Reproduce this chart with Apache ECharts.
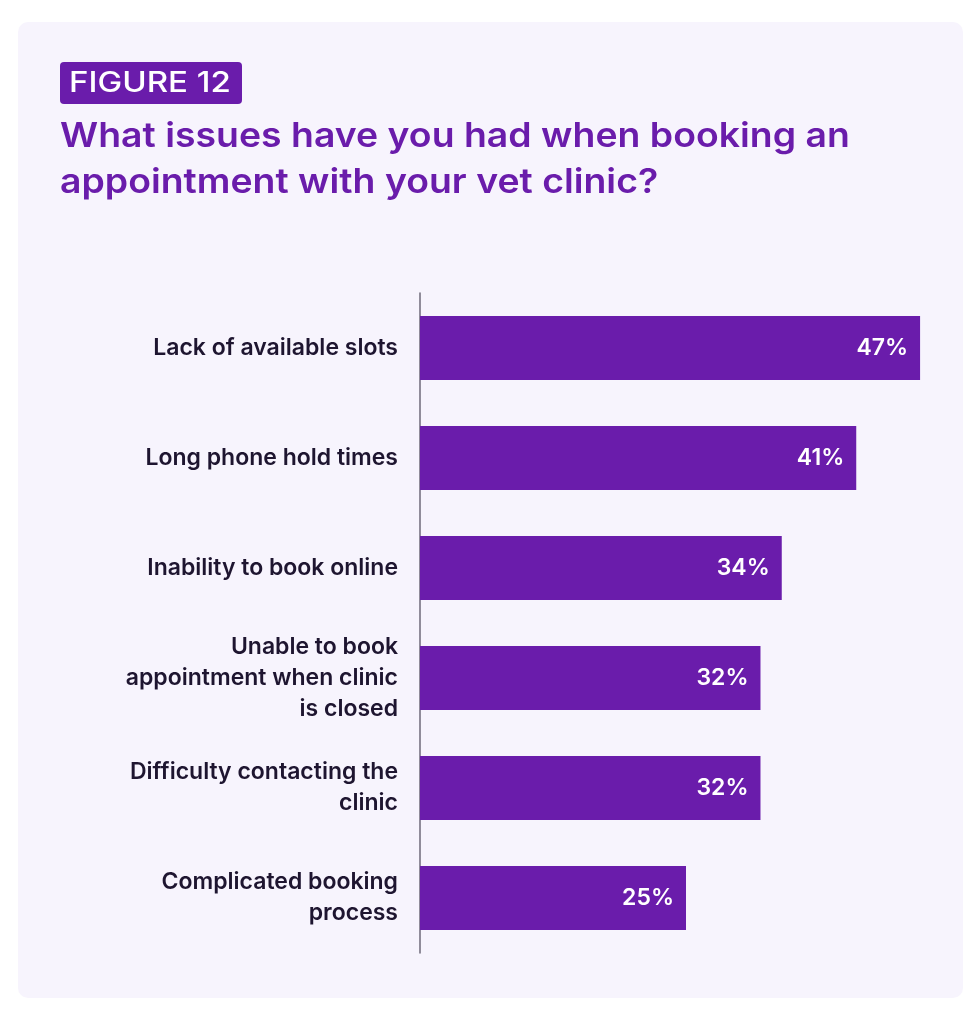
<!DOCTYPE html>
<html>
<head>
<meta charset="utf-8">
<script src="https://cdn.jsdelivr.net/npm/echarts@6/dist/echarts.min.js"></script>
<style>
html,body{margin:0;padding:0;background:#ffffff;}
#chart{width:980px;height:1024px;}
</style>
</head>
<body>
<div id="chart"></div>
<script>
const figureLabel = 'FIGURE 12';
const titleText = 'What issues have you had when booking an\nappointment with your vet clinic?';
const categories = [
  'Lack of available slots',
  'Long phone hold times',
  'Inability to book online',
  'Unable to book\nappointment when clinic\nis closed',
  'Difficulty contacting the\nclinic',
  'Complicated booking\nprocess'
];
const values = [47, 41, 34, 32, 32, 25];

const purple = '#6a1cab';
const font = 'Inter, "Noto Sans", sans-serif';

const chart = echarts.init(document.getElementById('chart'));
chart.setOption({
  backgroundColor: '#ffffff',
  animation: false,
  graphic: [
    { type: 'rect', z: -10, shape: { x: 18, y: 22, width: 945, height: 976, r: 10 }, style: { fill: '#f7f4fd' } },
    { type: 'rect', z: 1, shape: { x: 60, y: 62, width: 182, height: 42, r: 4 }, style: { fill: purple } },
    { type: 'text', z: 2, x: 69, y: 84, scaleX: 1.18, style: { text: figureLabel, fill: '#ffffff', font: '500 28px ' + font, verticalAlign: 'middle' } },
    { type: 'text', z: 2, x: 60, y: 114, scaleX: 1.1, style: { text: titleText, fill: purple, font: '600 34px ' + font, lineHeight: 46, verticalAlign: 'top' } }
  ],
  grid: { left: 420, top: 293, width: 532, height: 660, containLabel: false },
  xAxis: {
    type: 'value', min: 0, max: 50,
    show: false
  },
  yAxis: {
    type: 'category', data: categories, inverse: true,
    axisLine: { show: true, lineStyle: { color: '#6e6a78', width: 1.5 } },
    axisTick: { show: false },
    axisLabel: {
      margin: 22, color: '#1e1530', fontFamily: font, fontWeight: 600, fontSize: 23,
      lineHeight: 31, align: 'right'
    }
  },
  series: [{
    type: 'bar', data: values, barWidth: 64,
    itemStyle: { color: purple },
    label: {
      show: true, position: 'insideRight', distance: 12,
      formatter: '{c}%', color: '#ffffff', fontFamily: font, fontWeight: 600, fontSize: 23
    }
  }]
});
</script>
</body>
</html>
